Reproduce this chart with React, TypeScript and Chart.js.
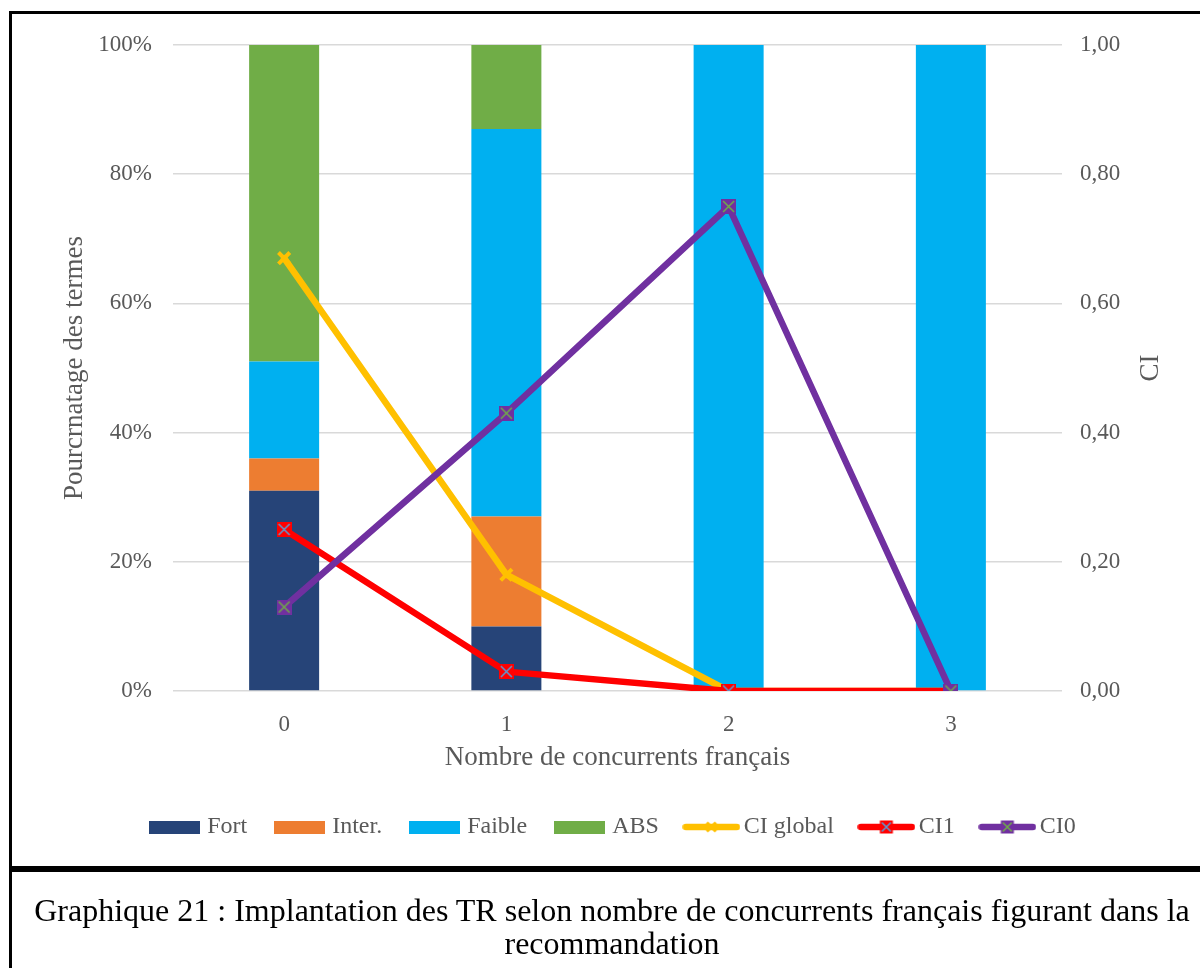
import React, { useEffect, useRef } from "react";
import { Chart, registerables } from "chart.js";

Chart.register(...registerables);

const categories = ["0", "1", "2", "3"];
const fortValues = [31, 10, 0, 0];
const interValues = [5, 17, 0, 0];
const faibleValues = [15, 60, 100, 100];
const absValues = [49, 13, 0, 0];
const ciGlobal = [0.67, 0.18, 0, 0];
const ci1 = [0.25, 0.03, 0, 0];
const ci0 = [0.13, 0.43, 0.75, 0];

const seriesNames = ["Fort", "Inter.", "Faible", "ABS", "CI global", "CI1", "CI0"];
const colors = {
  fort: "#264478",
  inter: "#ED7D31",
  faible: "#00B0F0",
  abs: "#70AD47",
  global: "#FFC000",
  ci1: "#FF0000",
  ci0: "#7030A0",
  blueX: "#5B9BD5",
  greenX: "#70AD47",
};

const SERIF = '"Liberation Serif", "Times New Roman", serif';
const GREY = "#595959";

function makeMarker(fill: string | null, stroke: string, size: number, lw: number) {
  const c = document.createElement("canvas");
  c.width = size;
  c.height = size;
  const ctx = c.getContext("2d")!;
  if (fill) {
    ctx.fillStyle = fill;
    ctx.fillRect(0, 0, size, size);
  }
  ctx.strokeStyle = stroke;
  ctx.lineWidth = lw;
  ctx.beginPath();
  ctx.moveTo(2, 2);
  ctx.lineTo(size - 2, size - 2);
  ctx.moveTo(size - 2, 2);
  ctx.lineTo(2, size - 2);
  ctx.stroke();
  return c;
}

function makeBox(color: string) {
  const c = document.createElement("canvas");
  c.width = 51;
  c.height = 13;
  const ctx = c.getContext("2d")!;
  ctx.fillStyle = color;
  ctx.fillRect(0, 0, 51, 13);
  return c;
}

function makeLineLegend(lineColor: string, markerFill: string | null, markerStroke: string, markerLw: number) {
  const w = 58;
  const h = 16;
  const c = document.createElement("canvas");
  c.width = w;
  c.height = h;
  const ctx = c.getContext("2d")!;
  ctx.strokeStyle = lineColor;
  ctx.lineWidth = 6.5;
  ctx.lineCap = "round";
  ctx.beginPath();
  ctx.moveTo(3.5, h / 2);
  ctx.lineTo(w - 3.5, h / 2);
  ctx.stroke();
  const m = 13;
  const x0 = w / 2 - m / 2;
  const y0 = h / 2 - m / 2;
  if (markerFill) {
    ctx.fillStyle = markerFill;
    ctx.fillRect(x0, y0, m, m);
  }
  ctx.strokeStyle = markerStroke;
  ctx.lineWidth = markerLw;
  ctx.lineCap = "butt";
  ctx.beginPath();
  ctx.moveTo(x0 + 2, y0 + 2);
  ctx.lineTo(x0 + m - 2, y0 + m - 2);
  ctx.moveTo(x0 + m - 2, y0 + 2);
  ctx.lineTo(x0 + 2, y0 + m - 2);
  ctx.stroke();
  return c;
}

const rightTitlePlugin = {
  id: "rightTitle",
  afterDraw(chart: any) {
    const { ctx, chartArea } = chart;
    ctx.save();
    ctx.font = `27px ${SERIF}`;
    ctx.fillStyle = GREY;
    ctx.textAlign = "center";
    ctx.textBaseline = "middle";
    ctx.translate(1139, (chartArea.top + chartArea.bottom) / 2);
    ctx.rotate(-Math.PI / 2);
    ctx.fillText("CI", 0, 0);
    ctx.restore();
  },
};

export default function App() {
  const ref = useRef<HTMLCanvasElement | null>(null);

  useEffect(() => {
    if (!ref.current) return;
    const markerCI1 = makeMarker(colors.ci1, colors.blueX, 15, 1.5);
    const markerCI0 = makeMarker(colors.ci0, colors.greenX, 15, 1.5);
    const legendImages = [
      makeBox(colors.fort),
      makeBox(colors.inter),
      makeBox(colors.faible),
      makeBox(colors.abs),
      makeLineLegend(colors.global, null, colors.global, 3),
      makeLineLegend(colors.ci1, colors.ci1, colors.blueX, 1.5),
      makeLineLegend(colors.ci0, colors.ci0, colors.greenX, 1.5),
    ];

    const barCommon = {
      type: "bar" as const,
      yAxisID: "y",
      barPercentage: 0.315,
      categoryPercentage: 1,
      order: 10,
      borderWidth: 0,
    };
    const lineCommon = {
      type: "line" as const,
      yAxisID: "y1",
      borderWidth: 6.5,
      borderCapStyle: "round" as const,
      borderJoinStyle: "round" as const,
      tension: 0,
      fill: false,
    };

    const chart = new Chart(ref.current, {
      type: "bar",
      data: {
        labels: categories,
        datasets: [
          { ...barCommon, label: seriesNames[0], data: fortValues, backgroundColor: colors.fort },
          { ...barCommon, label: seriesNames[1], data: interValues, backgroundColor: colors.inter },
          { ...barCommon, label: seriesNames[2], data: faibleValues, backgroundColor: colors.faible },
          { ...barCommon, label: seriesNames[3], data: absValues, backgroundColor: colors.abs },
          {
            ...lineCommon,
            label: seriesNames[4],
            data: ciGlobal,
            borderColor: colors.global,
            backgroundColor: colors.global,
            pointStyle: "crossRot",
            pointRadius: 8,
            pointBorderWidth: 4,
            pointBorderColor: colors.global,
            order: 3,
          },
          {
            ...lineCommon,
            label: seriesNames[5],
            data: ci1,
            borderColor: colors.ci1,
            backgroundColor: colors.ci1,
            pointStyle: markerCI1,
            order: 2,
          },
          {
            ...lineCommon,
            label: seriesNames[6],
            data: ci0,
            borderColor: colors.ci0,
            backgroundColor: colors.ci0,
            pointStyle: markerCI0,
            order: 1,
          },
        ] as any,
      },
      options: {
        responsive: false,
        animation: false,
        layout: { padding: { top: 31, bottom: 19, left: 18, right: 0 } },
        plugins: {
          tooltip: { enabled: false },
          legend: {
            position: "bottom",
            labels: {
              usePointStyle: true,
              pointStyleWidth: 41,
              padding: 32,
              color: GREY,
              font: { family: SERIF, size: 24 },
              sort: (a: any, b: any) => a.datasetIndex - b.datasetIndex,
              generateLabels(chart: any) {
                const items = Chart.defaults.plugins.legend.labels.generateLabels(chart);
                return items.map((it: any) => ({
                  ...it,
                  pointStyle: legendImages[it.datasetIndex],
                  fontColor: GREY,
                }));
              },
            },
          },
        },
        scales: {
          x: {
            stacked: true,
            grid: { display: false, drawTicks: false },
            border: { display: false },
            ticks: { color: GREY, font: { family: SERIF, size: 23 }, padding: 20 },
            title: {
              display: true,
              text: "Nombre de concurrents français",
              color: GREY,
              font: { family: SERIF, size: 27 },
              padding: { top: 0, bottom: 9 },
            },
            afterFit(scale: any) {
              scale.height = 92;
            },
          },
          y: {
            stacked: true,
            position: "left",
            min: 0,
            max: 100,
            ticks: {
              stepSize: 20,
              color: GREY,
              font: { family: SERIF, size: 23 },
              padding: 21,
              callback: (v: any) => `${v}%`,
            },
            grid: { color: "#D9D9D9", lineWidth: 1.5, drawTicks: false },
            border: { display: false },
            title: {
              display: true,
              text: "Pourcrnatage des termes",
              color: GREY,
              font: { family: SERIF, size: 27 },
              padding: { top: 29, bottom: 0 },
            },
            afterFit(scale: any) {
              scale.width = 143;
              scale.paddingTop = 0;
              scale.paddingBottom = 0;
            },
          },
          y1: {
            position: "right",
            min: 0,
            max: 1,
            stacked: false,
            ticks: {
              stepSize: 0.2,
              color: GREY,
              font: { family: SERIF, size: 23 },
              padding: 18,
              callback: (v: any) => Number(v).toFixed(2).replace(".", ","),
            },
            grid: { display: false, drawTicks: false },
            border: { display: false },
            afterFit(scale: any) {
              scale.width = 138;
              scale.paddingTop = 0;
              scale.paddingBottom = 0;
            },
          },
        },
      } as any,
      plugins: [rightTitlePlugin],
    });
    return () => chart.destroy();
  }, []);

  return (
    <div
      style={{
        position: "absolute",
        left: 0,
        top: 0,
        width: 1200,
        height: 968,
        overflow: "hidden",
        background: "#fff",
      }}
    >
      <div
        style={{
          position: "absolute",
          left: 9,
          top: 11,
          width: 1210,
          height: 855,
          border: "3px solid #000",
          boxSizing: "content-box",
        }}
      />
      <canvas
        ref={ref}
        width={1188}
        height={854}
        style={{ position: "absolute", left: 12, top: 14, width: 1188, height: 854 }}
      />
      <div
        style={{
          position: "absolute",
          left: 9,
          top: 866,
          width: 1200,
          height: 200,
          borderLeft: "3px solid #000",
          borderTop: "3px solid #000",
          boxSizing: "content-box",
          fontFamily: SERIF,
          fontSize: 32,
          lineHeight: "33px",
          color: "#000",
          textAlign: "center",
          paddingTop: 25,
        }}
      >
        Graphique 21 : Implantation des TR selon nombre de concurrents français figurant dans la
        <br />
        recommandation
      </div>
    </div>
  );
}
